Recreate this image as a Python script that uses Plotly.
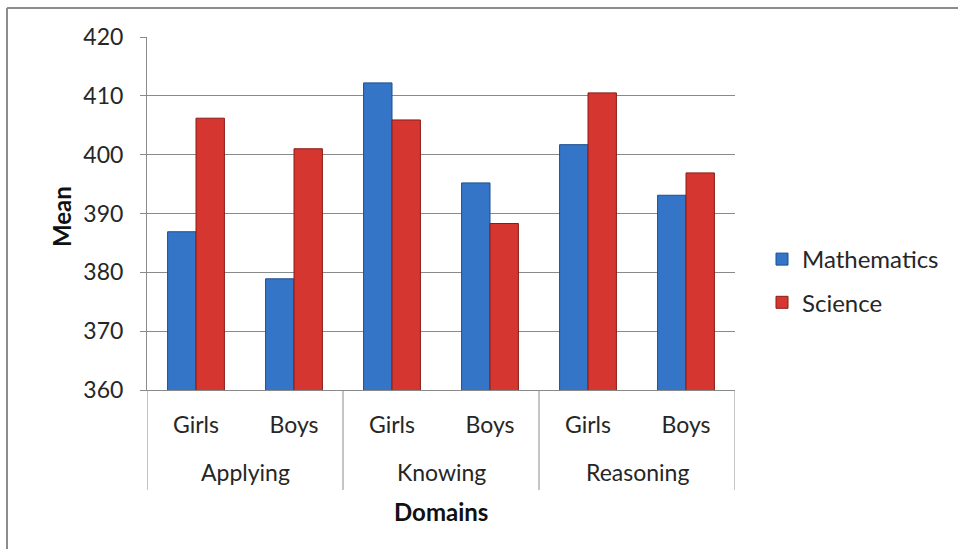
import plotly.graph_objects as go

domains = ["Applying", "Applying", "Knowing", "Knowing", "Reasoning", "Reasoning"]
genders = ["Girls", "Boys", "Girls", "Boys", "Girls", "Boys"]
mathematics = [386.9, 378.9, 412.2, 395.2, 401.7, 393.1]
science = [406.2, 401.0, 405.9, 388.3, 410.5, 396.9]
y_ticks = [360, 370, 380, 390, 400, 410, 420]

FONT = "Lato, 'Open Sans', sans-serif"
TXT = "#262626"
GRID = "#8a8a8a"

cats = [f"{d}|{g}" for d, g in zip(domains, genders)]

fig = go.Figure()
fig.add_trace(go.Bar(
    x=cats, y=mathematics, name="Mathematics",
    marker=dict(color="#3575c8", line=dict(color="#1d4f8f", width=1)),
    legendgroup="m",
))
fig.add_trace(go.Bar(
    x=cats, y=science, name="Science",
    marker=dict(color="#d5362f", line=dict(color="#8a1c18", width=1)),
    legendgroup="s",
))

W, H = 958, 549
L, R, T, B = 147, 735, 37, 390
pw, ph = R - L, B - T

def px2x(px):
    return (px - L) / pw

def py2y(py):
    return (B - py) / ph

# group structure derived from the category lists
groups = []
for i, d in enumerate(domains):
    if not groups or groups[-1][0] != d:
        groups.append([d, i, i])
    else:
        groups[-1][2] = i

shapes = []
bounds = sorted({g[1] - 0.5 for g in groups} | {g[2] + 0.5 for g in groups})
for b in bounds:
    shapes.append(dict(type="line", xref="x", yref="paper", x0=b, x1=b,
                       y0=py2y(490), y1=0, line=dict(color=GRID, width=1)))
# outer chart border (top and left edges visible)
shapes.append(dict(type="line", xref="paper", yref="paper",
                   x0=px2x(7), x1=px2x(958), y0=py2y(8), y1=py2y(8),
                   line=dict(color="#8c8c8c", width=2)))
shapes.append(dict(type="line", xref="paper", yref="paper",
                   x0=px2x(7), x1=px2x(7), y0=py2y(8), y1=py2y(549),
                   line=dict(color="#8c8c8c", width=2)))

annotations = []
for d, i0, i1 in groups:
    annotations.append(dict(text=d, x=(i0 + i1) / 2, xref="x", y=py2y(472), yref="paper",
                            showarrow=False, xanchor="center", yanchor="middle",
                            font=dict(size=23, color=TXT, family=FONT)))
annotations.append(dict(text="<b>Domains</b>", x=0.5, xref="paper", y=py2y(511), yref="paper",
                        showarrow=False, xanchor="center", yanchor="middle",
                        font=dict(size=24, color="#111", family=FONT)))
annotations.append(dict(text="<b>Mean</b>", x=px2x(61), xref="paper", y=py2y(217), yref="paper",
                        showarrow=False, xanchor="center", yanchor="middle", textangle=-90,
                        font=dict(size=24, color="#111", family=FONT)))

fig.update_layout(
    width=W, height=H,
    margin=dict(l=L, r=W - R, t=T, b=H - B),
    paper_bgcolor="white", plot_bgcolor="white",
    barmode="group", bargap=0.42, bargroupgap=0,
    font=dict(family=FONT, size=23, color=TXT),
    showlegend=True,
    legend=dict(x=px2x(762), y=py2y(281), xanchor="left", yanchor="middle",
                font=dict(size=24, color=TXT), tracegroupgap=9, itemwidth=30,
                bgcolor="rgba(0,0,0,0)"),
    xaxis=dict(
        type="category", categoryorder="array", categoryarray=cats,
        tickvals=cats, ticktext=genders,
        showline=True, linecolor=GRID, linewidth=1,
        ticks="", tickfont=dict(size=23, color=TXT), ticklabelstandoff=14,
        showgrid=False, range=[-0.5, len(cats) - 0.5],
    ),
    yaxis=dict(
        range=[360, 420], tickvals=y_ticks, ticktext=[str(v) for v in y_ticks],
        showgrid=True, gridcolor=GRID, gridwidth=1,
        showline=True, linecolor=GRID, linewidth=1,
        ticks="outside", ticklen=6, tickcolor=GRID,
        tickfont=dict(size=23, color=TXT), ticklabelstandoff=12,
        zeroline=False,
    ),
    shapes=shapes,
    annotations=annotations,
)

fig.write_html("out.html")
